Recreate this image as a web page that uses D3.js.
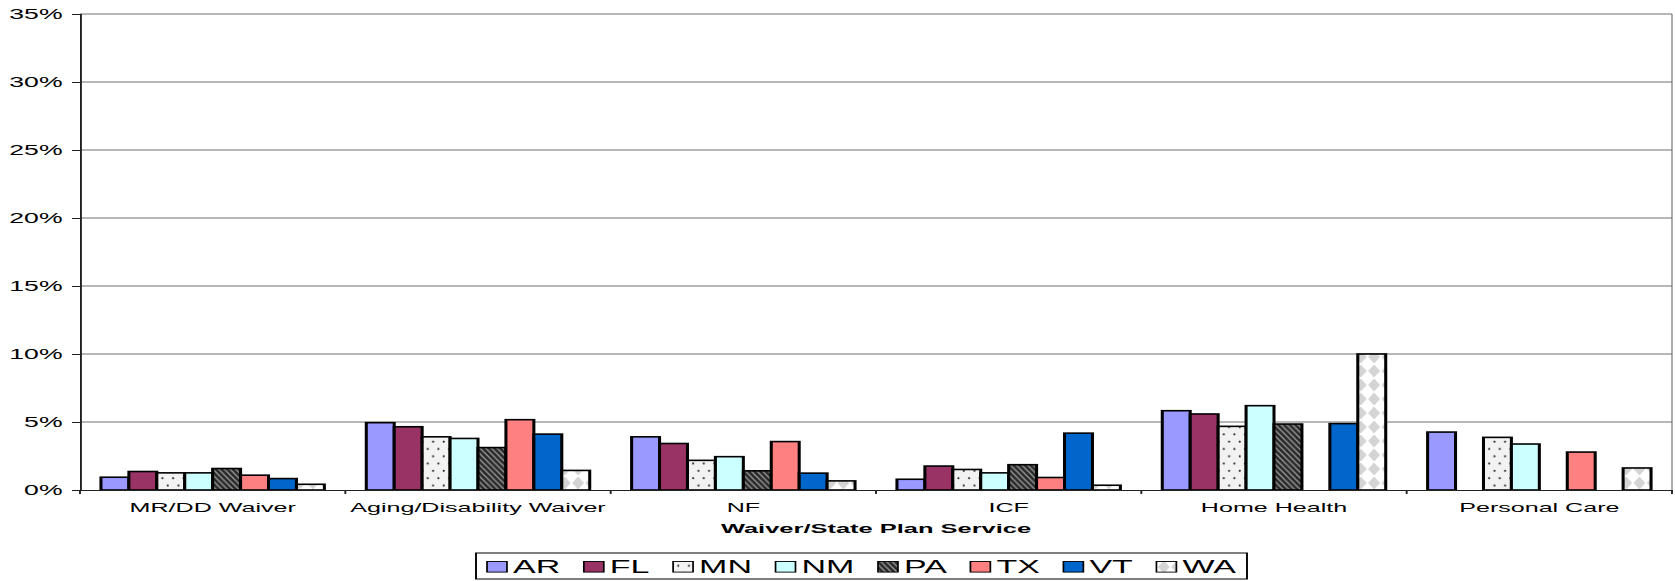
<!DOCTYPE html>
<html>
<head>
<meta charset="utf-8">
<script src="https://cdn.jsdelivr.net/npm/d3@7"></script>
<style>
  html, body { margin: 0; padding: 0; background: #fff; overflow: hidden; }
  svg { display: block; }
  text { font-family: "Liberation Sans", Arial, sans-serif; fill: #000; }
</style>
</head>
<body>
<svg id="chart"></svg>
<script>
// Service categories along the x axis
const categories = ["MR/DD Waiver", "Aging/Disability Waiver", "NF", "ICF", "Home Health", "Personal Care"];

// States shown as bar series
const states = ["AR", "FL", "MN", "NM", "PA", "TX", "VT", "WA"];

// Share per service, one array per state (null = no bar)
const AR = [0.0094, 0.0495, 0.0391, 0.0079, 0.0583, 0.0426];
const FL = [0.0136, 0.0465, 0.0342, 0.0176, 0.0559, null];
const MN = [0.0126, 0.0391, 0.0218, 0.0151, 0.0468, 0.0387];
const NM = [0.0126, 0.0379, 0.0245, 0.0126, 0.0620, 0.0338];
const PA = [0.0158, 0.0312, 0.0141, 0.0186, 0.0485, null];
const TX = [0.0109, 0.0517, 0.0356, 0.0092, null, 0.0279];
const VT = [0.0084, 0.0411, 0.0124, 0.0418, 0.0488, null];
const WA = [0.0042, 0.0144, 0.0067, 0.0035, 0.1000, 0.0162];

// Value axis ticks
const yTicks = [0, 0.05, 0.10, 0.15, 0.20, 0.25, 0.30, 0.35];

const xTitle = "Waiver/State Plan Service";

const seriesValues = { AR, FL, MN, NM, PA, TX, VT, WA };

// The drawing is laid out on a narrower canvas and stretched horizontally.
const SX = 1.9;
const PX_W = 1675, PX_H = 581;
const W = PX_W / SX, H = PX_H;

const svg = d3.select("#chart")
  .attr("width", PX_W)
  .attr("height", PX_H)
  .attr("viewBox", `0 0 ${W} ${H}`)
  .attr("preserveAspectRatio", "none");

const plot = { left: 80 / SX, right: 1672 / SX, top: 14, bottom: 490 };

const x = d3.scaleBand().domain(categories).range([plot.left, plot.right]).paddingInner(0).paddingOuter(0);
const xs = d3.scaleBand().domain(states).range([0, x.bandwidth()]).paddingInner(0).paddingOuter(0.75);
const y = d3.scaleLinear().domain([0, 0.35]).range([plot.bottom, plot.top]);

// ---- fill patterns ----
const defs = svg.append("defs");

// MN: light grey with sparse black dots
const pMN = defs.append("pattern").attr("id", "pat-mn")
  .attr("patternUnits", "userSpaceOnUse").attr("width", 5.6).attr("height", 14.6);
pMN.append("rect").attr("width", 5.6).attr("height", 14.6).attr("fill", "#f2f2f2");
pMN.append("ellipse").attr("cx", 1.4).attr("cy", 3.6).attr("rx", 0.55).attr("ry", 1.0).attr("fill", "#111");
pMN.append("ellipse").attr("cx", 4.2).attr("cy", 10.9).attr("rx", 0.55).attr("ry", 1.0).attr("fill", "#111");

// PA: dark downward diagonal stripes
const pPA = defs.append("pattern").attr("id", "pat-pa")
  .attr("patternUnits", "userSpaceOnUse").attr("width", 3).attr("height", 5.7);
pPA.append("rect").attr("width", 3).attr("height", 5.7).attr("fill", "#2a2a2a");
pPA.append("path").attr("d", "M-3,-5.7 L6,11.4 M0,-5.7 L9,11.4 M-6,-5.7 L3,11.4")
  .attr("stroke", "#a0a0a0").attr("stroke-width", 0.8).attr("fill", "none");

// WA: white with light grey diamonds
const pWA = defs.append("pattern").attr("id", "pat-wa")
  .attr("patternUnits", "userSpaceOnUse").attr("width", 7).attr("height", 14);
pWA.append("rect").attr("width", 7).attr("height", 14).attr("fill", "#ffffff");
pWA.append("path")
  .attr("d", "M3.5,0.5 L6.6,7 L3.5,13.5 L0.4,7 Z")
  .attr("fill", "#d4d4d4");

const fills = {
  AR: "#9999ff",
  FL: "#993366",
  MN: "url(#pat-mn)",
  NM: "#ccffff",
  PA: "url(#pat-pa)",
  TX: "#ff8080",
  VT: "#0066cc",
  WA: "url(#pat-wa)"
};

// ---- gridlines ----
svg.append("g").attr("class", "grid")
  .selectAll("line").data(yTicks.filter(d => d > 0))
  .join("line")
  .attr("x1", plot.left).attr("x2", plot.right)
  .attr("y1", d => y(d)).attr("y2", d => y(d))
  .attr("stroke", "#707070").attr("stroke-width", 1.2);

// right edge of plot area
svg.append("line")
  .attr("x1", plot.right).attr("x2", plot.right)
  .attr("y1", plot.top).attr("y2", plot.bottom)
  .attr("stroke", "#707070").attr("stroke-width", 0.6);

// ---- bars ----
const groups = svg.append("g").attr("class", "bars")
  .selectAll("g").data(categories).join("g")
  .attr("transform", d => `translate(${x(d)},0)`);

groups.selectAll("rect")
  .data((c, i) => states.map(s => ({ state: s, value: seriesValues[s][i] })).filter(d => d.value != null))
  .join("rect")
  .attr("x", d => xs(d.state))
  .attr("width", xs.bandwidth())
  .attr("y", d => y(d.value))
  .attr("height", d => y(0) - y(d.value))
  .attr("fill", d => fills[d.state])
  .attr("stroke", "#000")
  .attr("stroke-width", 1.6);

// ---- y axis ----
const yAxis = d3.axisLeft(y).tickValues(yTicks).tickFormat(d3.format(".0%")).tickSize(4.2).tickPadding(5);
const gy = svg.append("g").attr("transform", `translate(${plot.left},0)`).call(yAxis);
gy.select(".domain").attr("stroke", "#222").attr("stroke-width", 1);
gy.selectAll(".tick line").attr("stroke", "#222").attr("stroke-width", 1);
gy.selectAll(".tick text")
  .attr("font-size", 14).attr("font-family", "Liberation Sans, Arial, sans-serif")
  .attr("fill", "#000").attr("dy", "0.34em");

// ---- x axis ----
const xAxis = d3.axisBottom(x).tickSize(0).tickPadding(13);
const gx = svg.append("g").attr("transform", `translate(0,${plot.bottom})`).call(xAxis);
gx.select(".domain").attr("stroke", "#222").attr("stroke-width", 1);
gx.selectAll(".tick text")
  .attr("font-size", 13.2).attr("font-family", "Liberation Sans, Arial, sans-serif").attr("fill", "#000");

// category boundary ticks
gx.append("g").selectAll("line")
  .data(categories.map(c => x(c)).concat([plot.right]))
  .join("line")
  .attr("x1", d => d).attr("x2", d => d)
  .attr("y1", 0).attr("y2", 4)
  .attr("stroke", "#222").attr("stroke-width", 1);

// axis title
svg.append("text")
  .attr("x", (plot.left + plot.right) / 2)
  .attr("y", 533.3)
  .attr("text-anchor", "middle")
  .attr("font-size", 13.4)
  .attr("font-weight", "bold")
  .text(xTitle);

// ---- legend ----
const legendLeft = 476 / SX, legendTop = 553, legendH = 26;
const lg = svg.append("g").attr("class", "legend");
const box = lg.append("rect")
  .attr("x", legendLeft).attr("y", legendTop).attr("height", legendH)
  .attr("fill", "#fff").attr("stroke", "#000").attr("stroke-width", 1);

const swW = 10.5, swH = 10.6, swGap = 3.2, itemGap = 12.4, pad = 5.8;
let cx = legendLeft + pad;
states.forEach(s => {
  lg.append("rect")
    .attr("x", cx).attr("y", legendTop + 8.5)
    .attr("width", swW).attr("height", swH)
    .attr("fill", fills[s]).attr("stroke", "#000").attr("stroke-width", 0.9);
  const t = lg.append("text")
    .attr("x", cx + swW + swGap).attr("y", legendTop + 19.8)
    .attr("font-size", 17.9)
    .text(s);
  cx += swW + swGap + t.node().getComputedTextLength() + itemGap;
});
box.attr("width", cx - itemGap + pad - legendLeft);
</script>
</body>
</html>
